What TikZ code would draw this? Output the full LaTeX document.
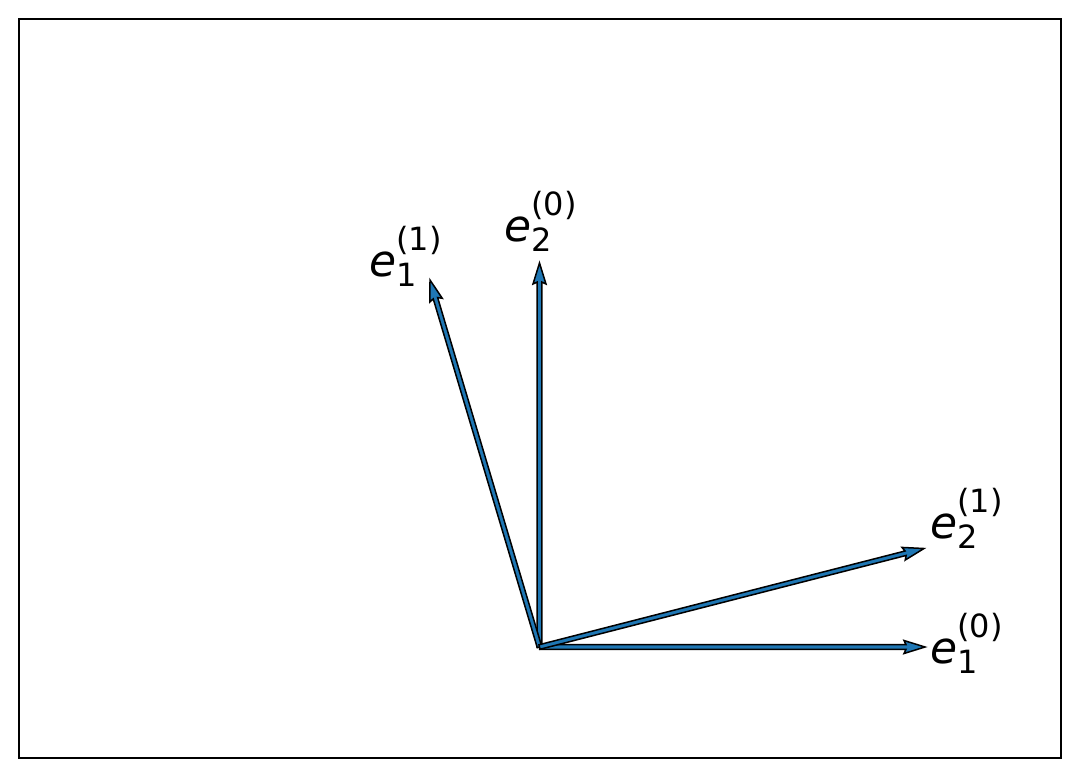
\documentclass[tikz,border=0pt]{standalone}
\usepackage{fontspec}
\setmainfont{DejaVu Sans}
\usetikzlibrary{calc}
\definecolor{qblue}{HTML}{1F77B4}
\tikzset{
  frame/.style={draw=black, line width=1.5pt},
  quiv/.style={fill=qblue, draw=black, line width=1.5pt, line join=miter},
  lbl/.style={anchor=base west, inner sep=0pt, font=\fontsize{44}{44}\selectfont},
}
\newcommand\elab[2]{\textit{e}\rlap{\raisebox{-10pt}{\fontsize{32}{32}\selectfont #1}}\raisebox{26pt}{\fontsize{32}{32}\selectfont (#2)}}
\newcommand\quivarrow[2]{%
  \path let \p1=($(#2)-(#1)$), \n1={veclen(\x1,\y1)}, \n2={atan2(\y1,\x1)} in
    \pgfextra{\xdef\qlen{\n1}\xdef\qang{\n2}};
  \begin{scope}[shift={(#1)}, rotate=\qang, x=1pt, y=1pt]
    \filldraw[quiv] (0,-2.3) -- (\qlen-19,-2.3) -- (\qlen-21,-6.5) -- (\qlen,0)
      -- (\qlen-21,6.5) -- (\qlen-19,2.3) -- (0,2.3) -- cycle;
  \end{scope}}
\begin{document}
\begin{tikzpicture}[x=1pt, y=-1pt]
  \useasboundingbox (0,0) rectangle (1080,777);
  \draw[frame] (19,19) rectangle (1061,758);
  \coordinate (O) at (539.5,647);
  \coordinate (t10) at (925,647);
  \coordinate (t20) at (539.5,263);
  \coordinate (t11) at (430,280);
  \coordinate (t21) at (924,548.5);
  \quivarrow{O}{t10}
  \quivarrow{O}{t20}
  \quivarrow{O}{t11}
  \quivarrow{O}{t21}
  \node[lbl] (l10) at (930,663) {\elab{1}{0}};
  \node[lbl] (l21) at (930,538) {\elab{2}{1}};
  \node[lbl] (l20) at (504,241) {\elab{2}{0}};
  \node[lbl] (l11) at (369,276) {\elab{1}{1}};
\end{tikzpicture}
\end{document}
